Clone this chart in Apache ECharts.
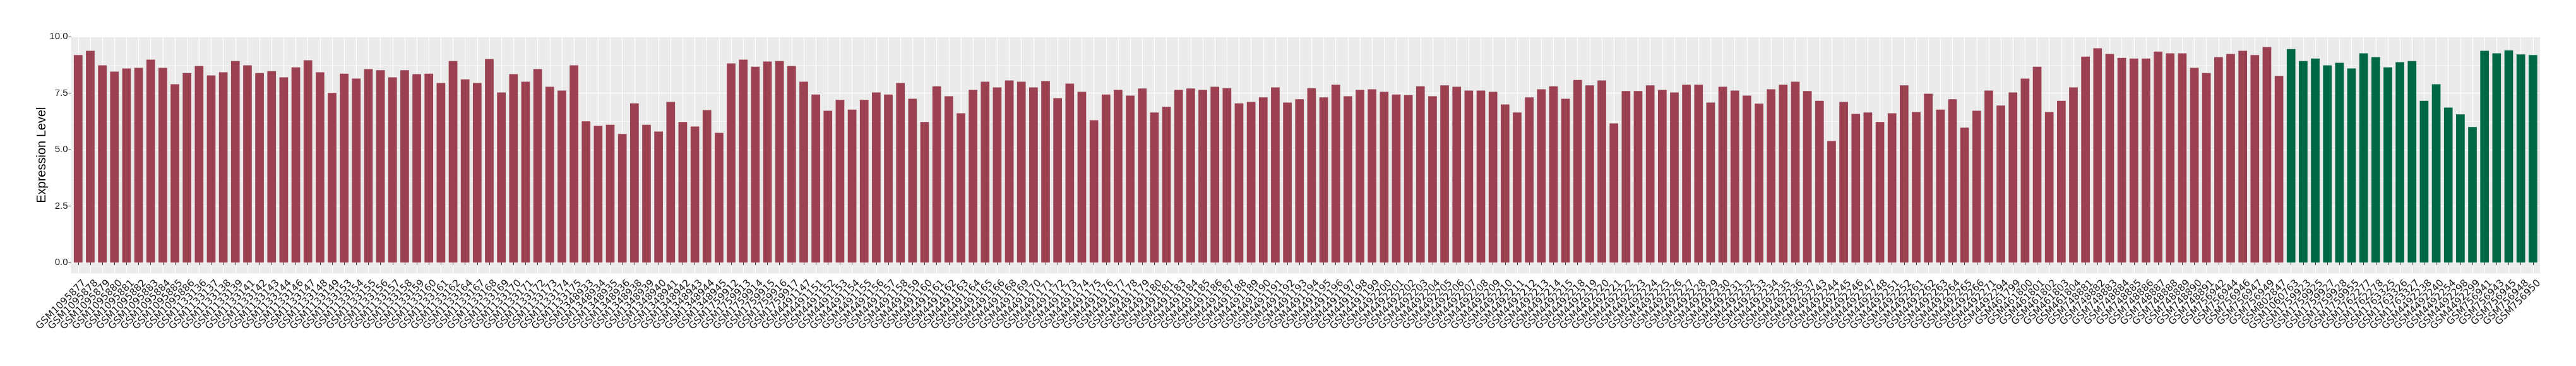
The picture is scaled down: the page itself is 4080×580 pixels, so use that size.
<!DOCTYPE html>
<html><head><meta charset="utf-8">
<script src="https://cdn.jsdelivr.net/npm/echarts@6/dist/echarts.min.js"></script>
<style>html,body{margin:0;padding:0;background:#fff}#c{width:4080px;height:580px}</style>
</head><body><div id="c"></div>
<script>
// ---- data ----
const samplesA = [
 "GSM1095877","GSM1095878","GSM1095879","GSM1095880","GSM1095881","GSM1095882","GSM1095883","GSM1095884","GSM1095885","GSM1095886",
 "GSM1133136","GSM1133137","GSM1133138","GSM1133139","GSM1133141","GSM1133142","GSM1133143","GSM1133144","GSM1133146","GSM1133147",
 "GSM1133148","GSM1133149","GSM1133153","GSM1133154","GSM1133155","GSM1133156","GSM1133157","GSM1133158","GSM1133159","GSM1133160",
 "GSM1133161","GSM1133162","GSM1133164","GSM1133167","GSM1133168","GSM1133169","GSM1133170","GSM1133171","GSM1133172","GSM1133173",
 "GSM1133174","GSM1133175","GSM1348933","GSM1348934","GSM1348935","GSM1348936","GSM1348938","GSM1348939","GSM1348940","GSM1348941",
 "GSM1348942","GSM1348943","GSM1348944","GSM1348945","GSM1759912","GSM1759913","GSM1759914","GSM1759915","GSM1759916","GSM1759917",
 "GSM4491147","GSM4491151","GSM4491152","GSM4491153","GSM4491154","GSM4491155","GSM4491156","GSM4491157","GSM4491158","GSM4491159",
 "GSM4491160","GSM4491161","GSM4491162","GSM4491163","GSM4491164","GSM4491165","GSM4491166","GSM4491168","GSM4491169","GSM4491170",
 "GSM4491171","GSM4491172","GSM4491173","GSM4491174","GSM4491175","GSM4491176","GSM4491177","GSM4491178","GSM4491179","GSM4491180",
 "GSM4491181","GSM4491183","GSM4491184","GSM4491185","GSM4491186","GSM4491187","GSM4491188","GSM4491189","GSM4491190","GSM4491191",
 "GSM4491192","GSM4491193","GSM4491194","GSM4491195","GSM4491196","GSM4491197","GSM4491198","GSM4491199","GSM4492200","GSM4492201",
 "GSM4492202","GSM4492203","GSM4492204","GSM4492205","GSM4492206","GSM4492207","GSM4492208","GSM4492209","GSM4492210","GSM4492211",
 "GSM4492212","GSM4492213","GSM4492214","GSM4492215","GSM4492218","GSM4492219","GSM4492220","GSM4492221","GSM4492222","GSM4492223",
 "GSM4492224","GSM4492225","GSM4492226","GSM4492227","GSM4492228","GSM4492229","GSM4492230","GSM4492231","GSM4492232","GSM4492233",
 "GSM4492234","GSM4492235","GSM4492236","GSM4492237","GSM4492243","GSM4492244","GSM4492245","GSM4492246","GSM4492247","GSM4492248",
 "GSM4492251","GSM4492252","GSM4492261","GSM4492262","GSM4492263","GSM4492264","GSM4492265","GSM4492266","GSM4492271","GSM4492294",
 "GSM461799","GSM461800","GSM461801","GSM461802","GSM461803","GSM461804","GSM748881","GSM748882","GSM748883","GSM748884",
 "GSM748885","GSM748886","GSM748887","GSM748888","GSM748889","GSM748890","GSM748891","GSM756942","GSM756944","GSM756946",
 "GSM756947","GSM756949","GSM802847"
];
const valuesA = [
 9.18,9.37,8.73,8.45,8.59,8.62,8.98,8.62,7.89,8.39,
 8.70,8.28,8.42,8.92,8.73,8.39,8.47,8.20,8.64,8.95,
 8.42,7.51,8.36,8.14,8.56,8.51,8.20,8.51,8.34,8.36,
 7.95,8.92,8.11,7.95,9.01,7.53,8.34,8.00,8.56,7.78,
 7.61,8.73,6.25,6.05,6.10,5.69,7.05,6.10,5.80,7.11,
 6.22,6.02,6.75,5.74,8.81,8.98,8.67,8.90,8.92,8.70,
 8.00,7.44,6.72,7.20,6.77,7.20,7.53,7.44,7.95,7.25,
 6.22,7.80,7.36,6.61,7.64,8.00,7.75,8.06,8.00,7.75,
 8.03,7.28,7.92,7.56,6.30,7.44,7.64,7.39,7.70,6.64,
 6.89,7.64,7.70,7.64,7.78,7.72,7.05,7.11,7.31,7.75,
 7.08,7.23,7.72,7.31,7.87,7.36,7.64,7.67,7.56,7.44,
 7.41,7.80,7.36,7.84,7.78,7.61,7.61,7.56,7.00,6.64,
 7.31,7.67,7.80,7.25,8.08,7.84,8.06,6.16,7.59,7.59,
 7.84,7.64,7.53,7.87,7.87,7.08,7.78,7.61,7.39,7.03,
 7.67,7.87,8.00,7.59,7.16,5.38,7.11,6.58,6.64,6.22,
 6.61,7.84,6.66,7.47,6.77,7.23,5.97,6.72,7.61,6.95,
 7.53,8.14,8.67,6.66,7.16,7.75,9.11,9.48,9.23,9.06,
 9.03,9.03,9.34,9.26,9.26,8.62,8.39,9.09,9.23,9.37,
 9.18,9.54,8.26
];
const samplesB = [
 "GSM1060763","GSM1759923","GSM1759925","GSM1759927","GSM1759928","GSM1759955","GSM1762277","GSM1762278","GSM1763325","GSM1763326",
 "GSM1763327","GSM4492238","GSM4492240","GSM4492254","GSM4492298","GSM4492299","GSM756941","GSM756943","GSM756945","GSM756948",
 "GSM756950"
];
const valuesB = [
 9.45,8.92,9.03,8.73,8.84,8.59,9.26,9.09,8.64,8.87,
 8.92,7.16,7.89,6.86,6.56,6.00,9.37,9.26,9.39,9.21,
 9.18
];
const yAxisTitle = "Expression Level";

// ---- build ----
const categories = samplesA.concat(samplesB);
const dataA = valuesA.concat(samplesB.map(() => null));
const dataB = samplesA.map(() => null).concat(valuesB);

const PANEL = {left: 112.5, right: 57, top: 58, bottom: 146.7};
const chart = echarts.init(document.getElementById('c'), null, {renderer: 'canvas'});
const white = '#FFFFFF';
chart.setOption({
  animation: false,
  backgroundColor: '#FFFFFF',
  grid: [
    {left: PANEL.left, right: PANEL.right, top: PANEL.top, bottom: PANEL.bottom, show: true, backgroundColor: '#EBEBEB', borderWidth: 0},
    {left: PANEL.left, right: PANEL.right, top: PANEL.top, bottom: 164, show: false},
    {left: 123.8, right: 68.2, top: PANEL.top, bottom: PANEL.bottom, show: false}
  ],
  xAxis: [
    {gridIndex: 0, type: 'value', show: false},
    {gridIndex: 1, type: 'value', show: false},
    {gridIndex: 2, type: 'category', data: categories, boundaryGap: false,
     axisLine: {show: false},
     axisTick: {show: true, interval: 0, length: 4, lineStyle: {color: '#333333', width: 1}},
     axisLabel: {interval: 0, rotate: 45, fontFamily: 'DejaVu Sans', fontSize: 15.5, color: '#1A1A1A',
                 verticalAlign: 'top', padding: [6, 0, 0, 0], margin: 3},
     splitLine: {show: true, interval: 0, lineStyle: {color: white, width: 1.1}}}
  ],
  yAxis: [
    {gridIndex: 0, type: 'value', min: 0, max: 1,
     name: yAxisTitle, nameLocation: 'middle', nameGap: 36,
     nameTextStyle: {fontFamily: 'Liberation Sans', fontSize: 20, color: '#000000'},
     axisLine: {show: false}, axisTick: {show: false}, axisLabel: {show: false}, splitLine: {show: false}},
    {gridIndex: 1, type: 'value', min: 0, max: 10, interval: 2.5,
     axisLine: {show: false},
     axisTick: {show: true, length: 4, lineStyle: {color: '#333333', width: 1}},
     axisLabel: {formatter: v => v.toFixed(1), fontFamily: 'Liberation Sans', fontSize: 15, color: '#1A1A1A', margin: 5},
     splitLine: {show: true, lineStyle: {color: white, width: 1.1}},
     minorTick: {show: false, splitNumber: 2},
     minorSplitLine: {show: true, lineStyle: {color: white, width: 0.55}}},
    {gridIndex: 2, type: 'value', min: -0.48, max: 10, show: false}
  ],
  series: [
    {type: 'bar', name: 'A', xAxisIndex: 2, yAxisIndex: 2, data: dataA, barWidth: '71.5%', barGap: '-100%',
     clip: false, itemStyle: {color: '#9B4151'}},
    {type: 'bar', name: 'B', xAxisIndex: 2, yAxisIndex: 2, data: dataB, barWidth: '71.5%', barGap: '-100%',
     clip: false, itemStyle: {color: '#006847'}}
  ]
});
</script></body></html>
